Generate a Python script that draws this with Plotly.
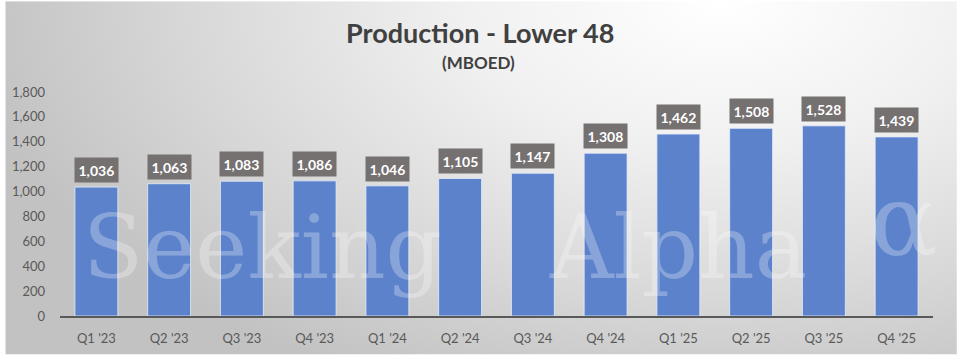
import base64
import plotly.graph_objects as go

categories = ["Q1 '23", "Q2 '23", "Q3 '23", "Q4 '23", "Q1 '24", "Q2 '24",
              "Q3 '24", "Q4 '24", "Q1 '25", "Q2 '25", "Q3 '25", "Q4 '25"]
production = [1036, 1063, 1083, 1086, 1046, 1105, 1147, 1308, 1462, 1508, 1528, 1439]
y_ticks = [0, 200, 400, 600, 800, 1000, 1200, 1400, 1600, 1800]
title_text = "Production - Lower 48"
subtitle_text = "(MBOED)"
watermark_words = ["Seeking", "Alpha", "α"]

W, H = 957, 358
ML, MR, MT, MB = 55, 24, 92, 39
PW, PH = W - ML - MR, H - MT - MB


def px_x(x):
    return (x - ML) / PW


def px_y(y):
    return (H - MB - y) / PH


svg = f'''<svg xmlns="http://www.w3.org/2000/svg" width="{W}" height="{H}" viewBox="0 0 {W} {H}" preserveAspectRatio="none">
<defs><radialGradient id="g" gradientUnits="userSpaceOnUse" cx="0" cy="0" r="1"
 gradientTransform="translate(720 0) scale(760 430)">
<stop offset="0" stop-color="#ffffff"/><stop offset="0.35" stop-color="#f0f0f0"/>
<stop offset="0.7" stop-color="#d8d8d8"/><stop offset="1" stop-color="#c2c2c2"/></radialGradient></defs>
<rect x="0" y="0" width="{W}" height="{H}" fill="url(#g)"/></svg>'''
bg_src = "data:image/svg+xml;base64," + base64.b64encode(svg.encode()).decode()

fig = go.Figure()
fig.add_trace(go.Bar(
    x=categories, y=production,
    marker=dict(color="#5B82CA", line=dict(color="rgba(230,238,250,0.8)", width=1)),
    hoverinfo="x+y",
))

annotations = []
for c, v in zip(categories, production):
    annotations.append(dict(
        x=c, y=v, xref="x", yref="y", text=f"<b>{v:,}</b>", showarrow=False,
        yanchor="bottom", yshift=4, bgcolor="#767171", borderpad=3.5,
        font=dict(family="Lato", size=14, color="white"),
    ))
annotations.append(dict(
    x=px_x(477), y=px_y(32), xref="paper", yref="paper",
    text=f"<b>{title_text}</b>", showarrow=False, yanchor="middle",
    font=dict(family="Lato", size=27, color="#404040"),
))
annotations.append(dict(
    x=px_x(476), y=px_y(62), xref="paper", yref="paper",
    text=f"<b>{subtitle_text}</b>", showarrow=False, yanchor="middle",
    font=dict(family="Lato", size=17, color="#404040"),
))
for word, left, ymid, size in zip(watermark_words, [76, 545, 868], [250, 250, 222], [88, 88, 100]):
    annotations.append(dict(
        x=px_x(left), y=px_y(ymid), xref="paper", yref="paper",
        text=word, showarrow=False, xanchor="left", yanchor="middle",
        font=dict(family="DejaVu Serif", size=size, color="rgba(255,255,255,0.28)"),
    ))

fig.update_layout(
    width=W, height=H,
    margin=dict(l=ML, r=MR, t=MT, b=MB, pad=0),
    paper_bgcolor="white", plot_bgcolor="rgba(0,0,0,0)",
    bargap=0.41, showlegend=False,
    annotations=annotations,
    images=[dict(source=bg_src, xref="paper", yref="paper",
                 x=-ML / PW, y=1 + MT / PH, sizex=W / PW, sizey=H / PH,
                 xanchor="left", yanchor="top", sizing="stretch", layer="below")],
    xaxis=dict(showgrid=False, showline=True, linecolor="#595959", linewidth=2,
               ticks="", tickfont=dict(family="Lato", size=13, color="#595959"),
               ticklabelstandoff=9, fixedrange=True),
    yaxis=dict(range=[0, 1800], tickvals=y_ticks, tickformat=",", showgrid=False,
               zeroline=False, showline=False, ticks="",
               tickfont=dict(family="Lato", size=13, color="#595959"),
               ticklabelstandoff=14, fixedrange=True),
)

fig.write_html(
    "out.html",
    config={"displayModeBar": False},
    post_script="document.body.style.margin='0';document.body.style.overflow='hidden';",
)
